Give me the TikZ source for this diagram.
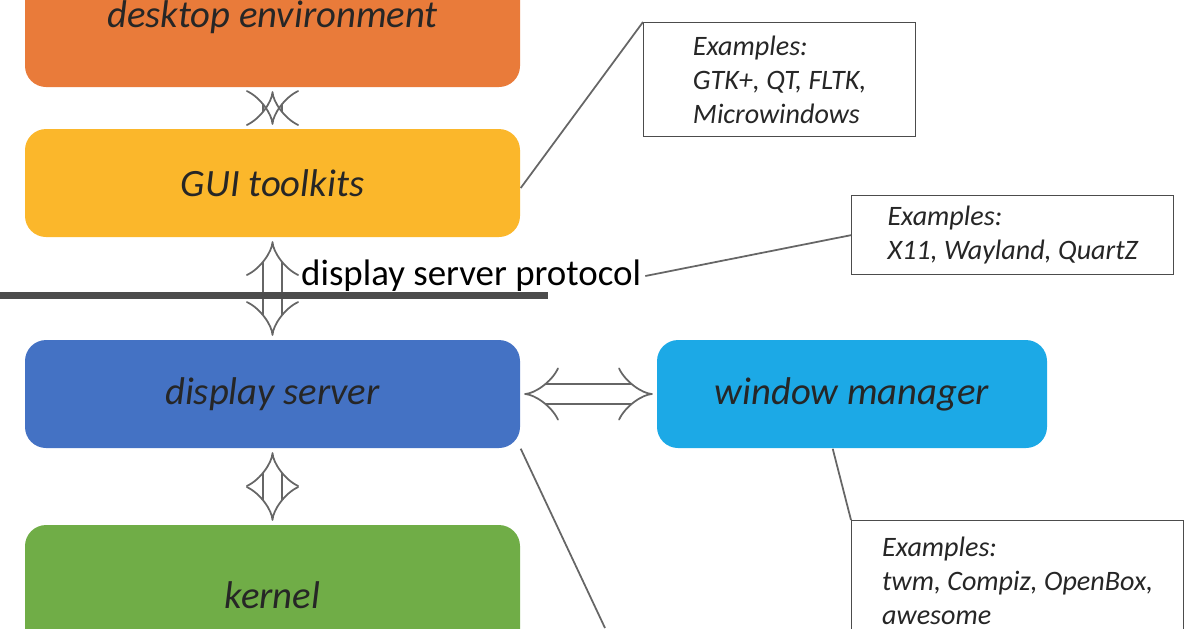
\documentclass[tikz,border=0pt]{standalone}
\usepackage{fontspec}
\setmainfont{Carlito}
\usetikzlibrary{arrows.meta,positioning}
\definecolor{deskorange}{RGB}{233,123,58}
\definecolor{guiyellow}{RGB}{251,183,43}
\definecolor{serverblue}{RGB}{68,114,196}
\definecolor{wmblue}{RGB}{28,169,230}
\definecolor{kernelgreen}{RGB}{112,173,71}
\begin{document}
\begin{tikzpicture}[
  layer/.style={rounded corners=6pt, minimum width=4.95cm, minimum height=1.08cm,
    font={\fontsize{11}{13}\selectfont\itshape}, text=black!85},
  callout/.style={draw=black!70, fill=white, align=left, inner sep=3pt,
    font={\fontsize{8}{9.6}\selectfont\itshape}, text=black!85, anchor=north west},
  link/.style={draw=black!60, line width=0.5pt},
  twoway/.style={double=white, draw=black!60, double distance=5pt, line width=0.5pt,
    {Implies}-{Implies}, shorten >=1pt, shorten <=1pt},
  ]
  \useasboundingbox (0,0) rectangle (11.96,-6.28);
  % layers
  \node[layer, fill=deskorange, minimum height=1.4cm] (desk) at (2.725,-0.17) {desktop environment};
  \node[layer, fill=guiyellow] (gui) at (2.725,-1.83) {GUI toolkits};
  \node[layer, fill=serverblue] (server) at (2.725,-3.94) {display server};
  \node[layer, fill=wmblue, minimum width=3.9cm] (wm) at (8.52,-3.94) {window manager};
  \node[layer, fill=kernelgreen, minimum height=1.4cm] (kernel) at (2.725,-5.95) {kernel};
  % arrows between layers
  \draw[twoway] (desk) -- (gui);
  \draw[twoway] (gui) -- (server);
  \draw[twoway] (server) -- (kernel);
  \draw[twoway] (server) -- (wm);
  % protocol line
  \coordinate (pl) at (0,-2.95);
  \coordinate (pr) at (5.48,-2.95);
  \draw[black!70, line width=2pt] (pl) -- (pr);
  \node[font={\fontsize{10.5}{12}\selectfont}, anchor=west, inner sep=1pt] (proto) at (2.97,-2.76) {display server protocol};
  % callouts
  \node[callout, minimum width=2.72cm, minimum height=1.14cm] (ex1) at (6.43,-0.22)
    {Examples:\\GTK+, QT, FLTK,\\Microwindows};
  \node[callout, minimum width=3.22cm, minimum height=0.71cm] (ex2) at (8.51,-1.95)
    {Examples:\\X11, Wayland, QuartZ};
  \node[callout, minimum width=3.32cm, minimum height=1.2cm] (ex3) at (8.51,-5.2)
    {Examples:\\twm, Compiz, OpenBox,\\awesome};
  \coordinate (off) at (6.05,-6.28);
  \draw[link] (gui.east) ++(0,-0.05) -- (ex1.north west);
  \draw[link] (proto.east) -- (ex2.west);
  \draw[link] ([xshift=-2.15cm]wm.south east) -- (ex3.north west);
  \draw[link] (server.south east) -- (off);
\end{tikzpicture}
\end{document}
